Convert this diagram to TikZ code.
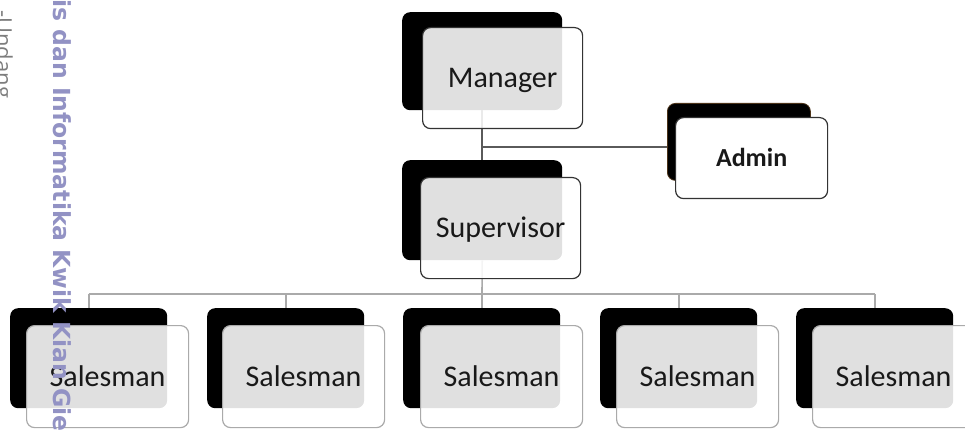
\documentclass[tikz,border=0pt]{standalone}
\usepackage{fontspec}
\setmainfont{Carlito}
\newfontfamily\wmfont{DejaVu Sans}
\newfontfamily\graywmfont{Open Sans}
\definecolor{wmpurple}{RGB}{146,146,196}
\definecolor{wmgray}{RGB}{125,125,125}
\definecolor{linedark}{RGB}{90,90,90}
\definecolor{linelight}{RGB}{170,170,170}
\definecolor{txt}{RGB}{25,25,25}
\tikzset{
  blk/.style={fill=black, rounded corners=8pt, inner sep=0pt, anchor=north west},
  frontbox/.style={draw=black!80, line width=1.2pt, fill=white, fill opacity=0.88, text opacity=1,
    rounded corners=8pt, inner sep=0pt, anchor=north west, text=txt,
    font=\fontsize{30}{36}\selectfont, text height=19pt, text depth=0pt},
  salesbox/.style={frontbox, draw=linelight},
  adminbox/.style={frontbox, fill opacity=1, font=\fontsize{26}{31}\selectfont\bfseries, text height=17pt},
  conn/.style={draw=linelight, line width=1.6pt},
  conndark/.style={draw=linedark, line width=1.6pt},
}
\begin{document}
\begin{tikzpicture}[x=1pt, y=-1pt]
\useasboundingbox (0,0) rectangle (965,430);
% coordinates for connectors
\coordinate (j1) at (483,147);
\coordinate (bus) at (482,294);
% black back boxes
\node[blk, minimum width=160pt, minimum height=98pt] (mB) at (402,12) {};
\node[blk, minimum width=160pt, minimum height=100pt] (sB) at (402,160) {};
\node[blk, minimum width=143pt, minimum height=77pt, draw=brown!40!black, line width=0.8pt] (aB) at (667,103) {};
\foreach \i/\x in {1/10, 2/207, 3/403, 4/600, 5/796} {
  \node[blk, minimum width=157pt, minimum height=100pt] (s\i B) at (\x,308) {};
}
% connectors
\draw[conndark] (mB.south) -- (sB.north);
\draw[conndark] (j1) -- (j1 -| aB.west);
\draw[conn] (sB.south) -- (bus);
\draw[conn] (s1B.north |- bus) -- (s5B.north |- bus);
\foreach \i in {1,...,5} {
  \draw[conn] (s\i B.north |- bus) -- (s\i B.north);
}
% front boxes
\node[frontbox, minimum width=160pt, minimum height=101pt] (m) at (422,27) {Manager};
\node[frontbox, minimum width=160pt, minimum height=101pt] (s) at (420,177) {Supervisor};
\node[adminbox, minimum width=152pt, minimum height=81pt] (a) at (675,117) {Admin};
\foreach \i/\x in {1/26, 2/222, 3/420, 4/616, 5/812} {
  \node[salesbox, minimum width=162pt, minimum height=102pt] (s\i) at (\x,325) {Salesman};
}
% watermark
\node[rotate=-90, anchor=west, inner sep=0pt, text=wmpurple, font=\wmfont\bfseries\fontsize{23.5}{28}\selectfont] (wm) at (62,-1) {is dan Informatika Kwik Kian Gie};
\node[rotate=-90, anchor=base west, inner sep=0pt, text=wmgray, font=\graywmfont\fontsize{22}{26}\selectfont] (wm2) at (-4,10) {-Undang};
\end{tikzpicture}
\end{document}
